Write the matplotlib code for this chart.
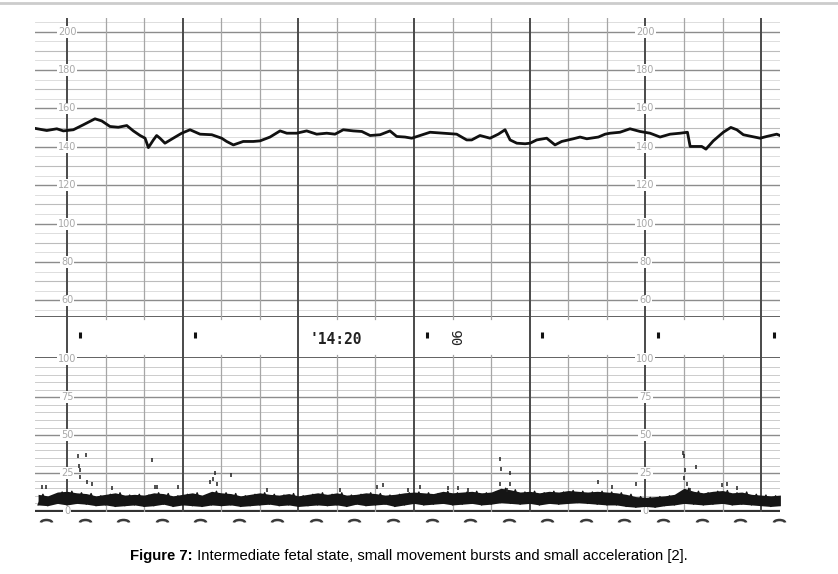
import numpy as np
import matplotlib.pyplot as plt
from matplotlib.lines import Line2D
from matplotlib.path import Path

W, H = 838, 574

# fetal heart rate trace (seconds, bpm)
fhr_t = [-17, -10.5, -5.3, -1.9, 3.3, 8.5, 14.5, 18.0, 22.3, 26.6,
         31.0, 34.4, 37.9, 40.5, 42.2, 44.8, 46.5, 48.2, 50.8, 55.1,
         59.5, 63.8, 69.0, 75.1, 80.2,
         82.8, 86.3, 91.4, 96.6, 100.1, 105.3, 110.5, 114.0, 119.1, 124.3,
         129.5, 134.7, 139.0, 143.3, 148.5, 152.9, 157.2, 162.4, 167.5, 171.0,
         175.3, 178.8,
         183.1, 188.3, 195.2, 202.1, 207.3, 209.9, 214.2, 219.4, 223.7, 227.2,
         229.8, 233.3, 237.6, 240.2, 243.6, 248.8, 253.1, 256.6, 262.6, 266.1,
         269.6, 275.6, 279.1,
         281.7, 286.8, 292.0, 297.2, 302.4, 307.6, 312.8, 318.0, 321.8, 323.2,
         326.6, 329.2, 331.4, 335.2, 340.4, 344.3, 347.4, 350.8, 355.1, 359.5,
         362.9, 368.1, 369.8]
fhr_bpm = [149.7, 148.5, 149.4, 148.3, 148.9, 151.5, 154.6, 153.5, 150.6, 150.2,
           151.1, 148.3, 145.9, 144.5, 139.6, 143.6, 145.9, 144.5, 141.9, 144.5,
           147.1, 148.9, 146.6, 146.3, 144.5,
           142.8, 141.0, 142.8, 142.8, 143.1, 145.1, 148.3, 147.1, 147.1, 148.3,
           146.6, 147.1, 146.6, 148.9, 148.3, 148.0, 145.9, 146.3, 148.3, 145.4,
           145.1, 144.5,
           145.9, 147.6, 147.1, 146.6, 143.6, 143.6, 145.9, 144.5, 146.6, 148.9,
           143.6, 141.9, 141.6, 141.9, 143.6, 144.5, 141.0, 142.8, 144.2, 145.1,
           144.2, 145.1, 146.6,
           147.1, 147.6, 149.4, 148.0, 147.1, 145.1, 146.6, 147.1, 147.6, 140.2,
           140.2, 140.2, 138.8, 143.1, 147.6, 150.1, 148.9, 146.3, 145.4, 144.5,
           145.4, 146.6, 145.9]

# uterine activity band, sampled every 5 s
uc_t = np.arange(-15, 371, 5)
uc_low = [4, 3.5, 5, 4, 5, 4.5, 3.5, 4, 3, 3.5,
          4, 3, 3.5, 4.5, 3, 4, 3.5, 3, 4, 3.5,
          4, 3, 3.5, 4, 4.5, 3.5, 4, 3, 3.5, 4,
          3.5, 4, 3, 4.5, 3.5, 4, 4.5, 3, 4, 5,
          4, 4.5, 5, 4, 4.5, 5, 4, 4.5, 5.5, 5,
          4.5, 5, 4, 5, 4.5, 5, 5.5, 5, 4.5, 4,
          4, 3, 2.5, 3, 2.5, 3.5, 4, 5, 4.5, 4,
          4.5, 5, 4, 4.5, 4, 3.5, 3, 3.5]
uc_high = [11, 10, 12.5, 13, 12, 11.5, 10, 11, 12, 10.5,
           11, 10.5, 12, 11.5, 10, 11, 12, 10.5, 13, 12,
           11.5, 10, 11, 12, 11, 10.5, 11.5, 10, 11, 12,
           11, 12, 10.5, 11, 12, 11.5, 10.5, 11, 12, 12.5,
           12, 11.5, 13, 12, 12.5, 13, 12, 12.5, 15, 14,
           12.5, 13, 12, 13, 12.5, 13.5, 13, 12.5, 13, 12.5,
           12, 11, 9.5, 9, 9.5, 10, 11, 15, 13, 12,
           13, 13.5, 12, 12.5, 11, 10.5, 10, 10.5]

# isolated marks above the band (movement bursts)
spike_t = [-13.1, -10.9, 5.9, 9.7, 6.4, 6.7, 6.7, 10.5, 12.8, 23.2,
           43.9, 45.6, 46.5, 57.7, 74.2, 75.6, 76.8, 77.6, 85.1, 103.6,
           141.6, 160.6, 164.1, 177.0, 183.1, 197.8, 203.0, 208.2, 224.6, 225.0,
           224.6, 229.8, 229.8, 228.1, 275.6, 282.5, 295.1, 319.7, 320.1, 320.6,
           320.1, 326.1, 321.4, 323.2, 339.6, 342.2, 347.4]
spike_v = [16, 16, 36, 37, 30, 27, 22.6, 19, 18, 15,
           33.6, 16, 16, 16, 19, 21, 25, 18, 24, 14,
           14, 16, 17, 14, 16, 15, 15, 14, 34, 28,
           18, 25, 18, 14, 19, 16, 18, 38, 36, 27,
           21.5, 29, 18, 14, 17, 18, 15]

fhr_ticks = [60, 80, 100, 120, 140, 160, 180, 200]
uc_ticks = [0, 25, 50, 75, 100]
scale_t = [0, 300]
minute_marks = [6.5, 66.5, 186.5, 246.5, 306.5, 366.5]

XLIM = (-16.6, 369.8)


def px_axes(fig, x0, y0, x1, y1):
    ax = fig.add_axes([x0 / W, 1 - y1 / H, (x1 - x0) / W, (y1 - y0) / H])
    ax.set_xlim(*XLIM)
    ax.set_xticks([])
    ax.set_yticks([])
    for s in ax.spines.values():
        s.set_visible(False)
    return ax


def verticals(ax):
    for t in range(0, 361, 20):
        if t % 60 == 0:
            ax.axvline(t, color='#4a4a4a', lw=1.4, zorder=1)
        else:
            ax.axvline(t, color='#a6a6a6', lw=0.9, zorder=1)


def scale_labels(ax, ticks):
    for st in scale_t:
        for v in ticks:
            ax.text(st, v, str(v), ha='center', va='center', fontsize=7,
                    color='#a8a8a8', zorder=3,
                    bbox=dict(fc='white', ec='none', pad=0.6))


fig = plt.figure(figsize=(W / 100, H / 100), dpi=100)
fig.add_artist(Line2D([0, 1], [1 - 3 / H] * 2, color='#cccccc', lw=2))

# heart rate panel
ax1 = px_axes(fig, 35, 18, 780, 316)
ax1.set_ylim(51.9, 207.1)
for v in range(55, 206, 5):
    if v % 20 == 0:
        ax1.axhline(v, color='#8c8c8c', lw=1.0, zorder=1)
    elif v % 10 == 0:
        ax1.axhline(v, color='#bcbcbc', lw=0.8, zorder=1)
    else:
        ax1.axhline(v, color='#d8d8d8', lw=0.6, zorder=1)
verticals(ax1)
scale_labels(ax1, fhr_ticks)
ax1.plot(fhr_t, fhr_bpm, color='#111111', lw=2.0, zorder=4)

# annotation strip
ax2 = px_axes(fig, 35, 316, 780, 358)
ax2.set_ylim(0, 1)
ax2.axhline(1, color='#555555', lw=1.3)
ax2.axhline(0, color='#555555', lw=1.3)
for t in range(0, 361, 20):
    if t % 60 == 0:
        ax2.axvline(t, color='#4a4a4a', lw=1.4)
    else:
        ax2.axvline(t, 0, 0.08, color='#a6a6a6', lw=0.9)
        ax2.axvline(t, 0.92, 1, color='#a6a6a6', lw=0.9)
ax2.plot(minute_marks, [0.55] * len(minute_marks), ls='none', marker='|',
         ms=5, mew=2.2, color='#111111')
ax2.text(126, 0.45, "'14:20", ha='left', va='center', fontsize=10.5,
         family='DejaVu Sans Mono', weight='bold', color='#222222')
ax2.text(202.8, 0.5, "06", ha='center', va='center', fontsize=10,
         family='DejaVu Sans Mono', rotation=90, color='#222222')

# uterine activity panel
ax3 = px_axes(fig, 35, 358, 780, 512)
ax3.set_ylim(-0.66, 100.9)
for v in range(5, 100, 5):
    if v % 25 == 0:
        ax3.axhline(v, color='#8c8c8c', lw=1.0, zorder=1)
    else:
        ax3.axhline(v, color='#cccccc', lw=0.7, zorder=1)
ax3.axhline(0, color='#333333', lw=1.6, zorder=1)
verticals(ax3)
scale_labels(ax3, uc_ticks)

ax3.fill_between(uc_t, uc_low, uc_high, color='#151515', lw=0, zorder=4)
zig_t = np.ravel(np.column_stack([uc_t, uc_t + 2.5]))
zig_v = np.ravel(np.column_stack([uc_low, uc_high]))
ax3.plot(zig_t, zig_v, color='#151515', lw=1.0, zorder=4)
ax3.plot(spike_t, spike_v, ls='none', marker='|', ms=3.5, mew=1.1,
         color='#222222', zorder=4)

# paper feed marks under the strip
arc = Path.arc(0, 180)
feed_mark = Path(arc.vertices * [1, 0.45], arc.codes)
feed_t = [-10.9 + 20 * k for k in range(20)]
ax3.plot(feed_t, [-7.3] * len(feed_t), ls='none', marker=feed_mark,
         ms=8, mew=1.8, mfc='none', color='#3a3a3a', clip_on=False)

cap = fig.text(130 / W, 1 - 556 / H, "Figure 7:", fontsize=10.7, weight='bold',
               family='Liberation Sans', va='center')
ax3.annotate(" Intermediate fetal state, small movement bursts and small acceleration [2].",
             xy=(1, 0.5), xycoords=cap, va='center', ha='left',
             fontsize=10.7, family='Liberation Sans', annotation_clip=False)

plt.savefig('out.png', dpi=100)
